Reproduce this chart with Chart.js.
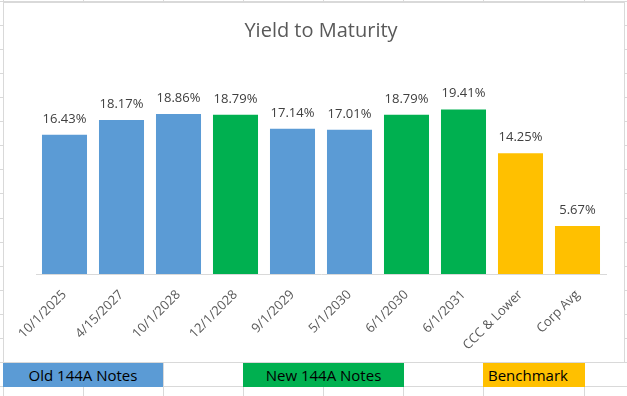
<!DOCTYPE html>
<html>
<head>
<meta charset="utf-8">
<script src="https://cdn.jsdelivr.net/npm/chart.js@4.4.1/dist/chart.umd.min.js"></script>
<style>
  body { margin: 0; background: #fff; width: 627px; height: 396px; overflow: hidden; position: relative; font-family: "Open Sans", sans-serif; }
  .gl { position: absolute; background: #d9d9d9; }
  #box { position: absolute; left: 3px; top: 2px; width: 620px; height: 359px; border: 1px solid #d9d9d9; background: #fff; }
  #box canvas { display: block; }
  .cell { position: absolute; top: 363px; height: 24px; line-height: 24px; font-size: 15px; color: #000; }
</style>
</head>
<body>
<div id="box"><canvas id="myChart" width="620" height="359"></canvas></div>
<div class="cell" style="left:3px;width:160px;background:#5b9bd5;text-align:center;">Old 144A Notes</div>
<div class="cell" style="left:243px;width:161px;background:#00b050;text-align:center;">New 144A Notes</div>
<div class="cell" style="left:483px;width:102px;background:#ffc000;padding-left:5px;box-sizing:border-box;">Benchmark</div>
<script>
// Données du graphique
const labels = ['10/1/2025', '4/15/2027', '10/1/2028', '12/1/2028', '9/1/2029',
    '5/1/2030', '6/1/2030', '6/1/2031', 'CCC & Lower', 'Corp Avg'];
const yields = [16.43, 18.17, 18.86, 18.79, 17.14, 17.01, 18.79, 19.41, 14.25, 5.67];
const groups = ['old', 'old', 'old', 'new', 'old', 'old', 'new', 'new', 'bench', 'bench'];
const groupColors = { old: '#5b9bd5', new: '#00b050', bench: '#ffc000' };

// Quadrillage de la feuille Excel en arrière-plan
const colLines = [3, 83, 163, 243, 323, 403, 483, 584];
for (const x of colLines) {
    const d = document.createElement('div');
    d.className = 'gl';
    d.style.cssText = 'left:' + x + 'px;top:0;width:1px;height:396px;';
    document.body.insertBefore(d, document.body.firstChild);
}
for (let k = -1; k < 16; k++) {
    const d = document.createElement('div');
    d.className = 'gl';
    d.style.cssText = 'left:0;top:' + Math.round(25 + k * 24.07) + 'px;width:627px;height:1px;';
    document.body.insertBefore(d, document.body.firstChild);
}

// Étiquettes de valeurs au-dessus des barres
const valueLabels = {
    id: 'valueLabels',
    afterDatasetsDraw(chart) {
        const ctx = chart.ctx;
        const meta = chart.getDatasetMeta(0);
        ctx.save();
        ctx.font = '13px "Open Sans"';
        ctx.fillStyle = '#404040';
        ctx.textAlign = 'center';
        ctx.textBaseline = 'alphabetic';
        meta.data.forEach((bar, i) => {
            ctx.fillText(yields[i].toFixed(2) + '%', bar.x, bar.y - 12);
        });
        ctx.restore();
    }
};

const ctx = document.getElementById('myChart').getContext('2d');
const myChart = new Chart(ctx, {
    type: 'bar',
    data: {
        labels: labels,
        datasets: [{
            data: yields,
            backgroundColor: groups.map(g => groupColors[g]),
            barPercentage: 0.79,
            categoryPercentage: 1.0
        }]
    },
    plugins: [valueLabels],
    options: {
        responsive: false,
        animation: false,
        devicePixelRatio: 1,
        layout: { padding: { left: 32, right: 18, top: 0, bottom: 0 } },
        plugins: {
            legend: { display: false },
            tooltip: { enabled: false },
            title: {
                display: true,
                text: 'Yield to Maturity',
                color: '#595959',
                font: { family: 'Open Sans', size: 20, weight: 'normal' },
                padding: { top: 16, bottom: 19 }
            }
        },
        scales: {
            y: { display: false, min: 0, max: 25 },
            x: {
                grid: { display: false },
                border: { display: true, color: '#d9d9d9' },
                ticks: {
                    color: '#595959',
                    font: { family: 'Open Sans', size: 13 },
                    autoSkip: false,
                    minRotation: 45,
                    maxRotation: 45,
                    padding: 5
                },
                afterFit(scale) { scale.height = 88; }
            }
        }
    }
});
</script>
</body>
</html>
